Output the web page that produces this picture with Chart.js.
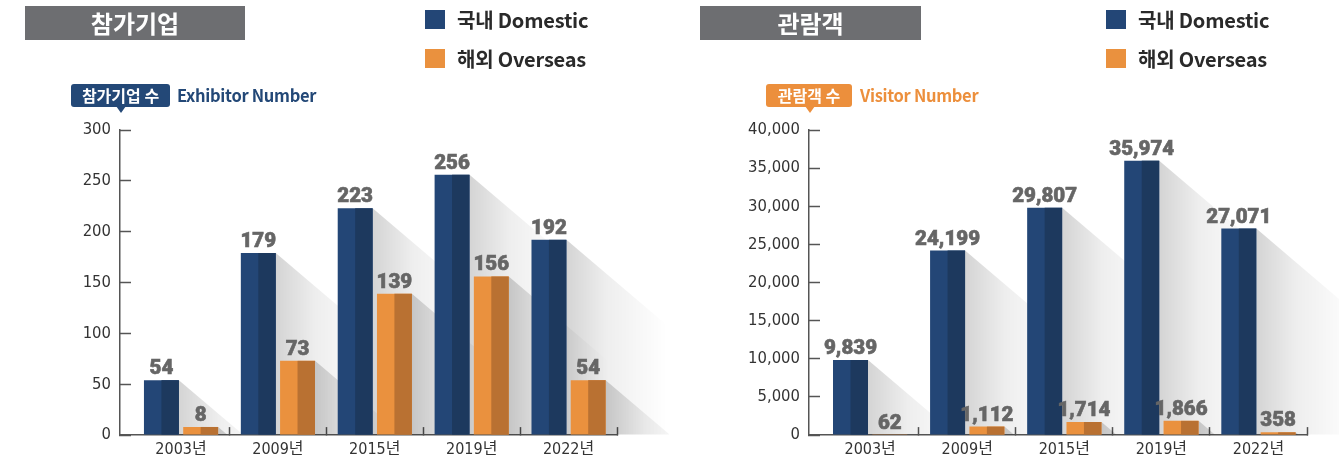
<!DOCTYPE html>
<html>
<head>
<meta charset="utf-8">
<script src="https://cdn.jsdelivr.net/npm/chart.js@4.4.1/dist/chart.umd.min.js"></script>
<style>
  html, body { margin: 0; padding: 0; background: #ffffff; }
  #page { position: relative; width: 1339px; height: 465px; overflow: hidden; background: #fff;
          font-family: 'Noto Sans CJK KR', 'Noto Sans', sans-serif; }
  canvas { position: absolute; top: 0; }
  .title { position: absolute; top: 6px; height: 34px; background: #6d6e71; color: #fff;
           font-size: 24px; font-weight: 700; text-align: center; line-height: 34px; }
  .leg { position: absolute; height: 39px; line-height: 39px; font-size: 20px; font-weight: 700; color: #2a2a2a; white-space: nowrap; letter-spacing: -0.2px; }
  .leg .sq { position: absolute; left: 0; top: 10px; width: 20px; height: 19px; }
  .leg span.t { position: absolute; left: 32px; top: 0; }
  .badge { position: absolute; top: 84px; height: 23px; border-radius: 3px; color: #fff; font-size: 16px; font-weight: 700;
           text-align: center; line-height: 23px; white-space: nowrap; }
  .tri { position: absolute; top: 106px; width: 0; height: 0; border-left: 5px solid transparent; border-right: 5px solid transparent; }
  .sub { position: absolute; top: 84px; height: 23px; line-height: 23px; font-size: 16.5px; font-weight: 700; white-space: nowrap; letter-spacing: -0.3px; }
</style>
</head>
<body>
<div id="page">
  <canvas id="c1" width="669" height="465" style="left:0px"></canvas>
  <canvas id="c2" width="670" height="465" style="left:669px"></canvas>

  <div class="title" style="left:25px; width:220px;">참가기업</div>
  <div class="title" style="left:700px; width:221px;">관람객</div>

  <div class="leg" style="left:425px; top:0px;"><div class="sq" style="background:#234676"></div><span class="t">국내 Domestic</span></div>
  <div class="leg" style="left:425px; top:39px;"><div class="sq" style="background:#ea913e"></div><span class="t">해외 Overseas</span></div>
  <div class="leg" style="left:1106px; top:0px;"><div class="sq" style="background:#234676"></div><span class="t">국내 Domestic</span></div>
  <div class="leg" style="left:1106px; top:39px;"><div class="sq" style="background:#ea913e"></div><span class="t">해외 Overseas</span></div>

  <div class="badge" style="left:71px; width:99px; background:#234877;">참가기업 수</div>
  <div class="tri" style="left:116px; border-top:7px solid #234877;"></div>
  <div class="sub" style="left:177px; color:#234877;">Exhibitor Number</div>

  <div class="badge" style="left:766px; width:86px; background:#ec8f3c;">관람객 수</div>
  <div class="tri" style="left:805px; border-top:7px solid #ec8f3c;"></div>
  <div class="sub" style="left:860px; color:#ec8f3c;">Visitor Number</div>
</div>
<script>
// ---- data ----
const categories = ['2003년', '2009년', '2015년', '2019년', '2022년'];
const exhibitorDomestic = [54, 179, 223, 256, 192];
const exhibitorOverseas = [8, 73, 139, 156, 54];
const visitorDomestic = [9839, 24199, 29807, 35974, 27071];
const visitorOverseas = [62, 1112, 1714, 1866, 358];
const exhibitorAxis = { max: 300, step: 50 };
const visitorAxis = { max: 40000, step: 5000 };
const seriesNames = ['국내 Domestic', '해외 Overseas'];

// ---- styling ----
const NAVY = '#234676', NAVY_DARK = '#1d395e';
const ORANGE = '#ea913e', ORANGE_DARK = '#b97132';
const AXIS = '#555555';
const NARROW = "'Liberation Sans Narrow', 'DejaVu Sans Condensed', 'Noto Sans CJK KR', sans-serif";
const CAT_OFFSET = 0.13;
const fmt = v => Number(v).toLocaleString('en-US');

const shadowPlugin = {
  id: 'longShadow',
  beforeDatasetsDraw(chart) {
    const ctx = chart.ctx;
    const F = 100, slope = 0.85;
    chart.data.datasets.forEach((ds, di) => {
      const meta = chart.getDatasetMeta(di);
      meta.data.forEach(el => {
        const p = el.getProps(['x', 'y', 'base', 'width'], true);
        const right = p.x + p.width / 2;
        const top = Math.min(p.y, p.base), base = Math.max(p.y, p.base);
        const h = base - top;
        if (h <= 0) return;
        const L = Math.min(F, h / slope);
        const g = ctx.createLinearGradient(right, 0, right + F, 0);
        g.addColorStop(0, 'rgba(0,0,0,0.17)');
        g.addColorStop(0.4, 'rgba(0,0,0,0.065)');
        g.addColorStop(1, 'rgba(0,0,0,0)');
        ctx.save();
        ctx.beginPath();
        ctx.moveTo(right, top);
        ctx.lineTo(right + L, top + L * slope);
        ctx.lineTo(right + L, base);
        ctx.lineTo(right, base);
        ctx.closePath();
        ctx.fillStyle = g;
        ctx.fill();
        ctx.restore();
      });
    });
  }
};

const toneAndLabelPlugin = {
  id: 'toneLabels',
  afterDatasetsDraw(chart) {
    const ctx = chart.ctx;
    chart.data.datasets.forEach((ds, di) => {
      const meta = chart.getDatasetMeta(di);
      meta.data.forEach((el, i) => {
        const p = el.getProps(['x', 'y', 'base', 'width'], true);
        const top = Math.min(p.y, p.base), h = Math.abs(p.base - p.y);
        ctx.save();
        ctx.fillStyle = ds.darkColor;
        ctx.fillRect(p.x, top, p.width / 2, h);
        ctx.fillStyle = '#666666';
        ctx.font = "900 20.5px Roboto, 'Noto Sans', sans-serif";
        ctx.textAlign = 'center';
        ctx.textBaseline = 'alphabetic';
        ctx.lineWidth = 0.6;
        ctx.strokeStyle = '#666666';
        const txt = fmt(ds.data[i]);
        ctx.fillText(txt, p.x, top - 6);
        ctx.strokeText(txt, p.x, top - 6);
        ctx.restore();
      });
    });
  }
};

function makeChart(id, dom, ovs, axis, yWidth, padRight) {
  return new Chart(document.getElementById(id), {
    type: 'bar',
    data: {
      labels: categories,
      datasets: [
        { label: seriesNames[0], data: dom, backgroundColor: NAVY, darkColor: NAVY_DARK, borderWidth: 0,
          categoryPercentage: 0.81, barPercentage: 0.89 },
        { label: seriesNames[1], data: ovs, backgroundColor: ORANGE, darkColor: ORANGE_DARK, borderWidth: 0,
          categoryPercentage: 0.81, barPercentage: 0.89 }
      ]
    },
    options: {
      responsive: false,
      animation: false,
      devicePixelRatio: 1,
      layout: { padding: { left: 0, right: padRight, top: 130, bottom: 0 } },
      plugins: { legend: { display: false }, tooltip: { enabled: false } },
      scales: {
        x: {
          type: 'category',
          offset: true,
          grid: {
            offset: true, drawOnChartArea: false, drawTicks: true, tickLength: -8,
            tickColor: c => (c.index === 0 ? 'rgba(0,0,0,0)' : AXIS), tickWidth: 1.5
          },
          border: { display: true, color: AXIS, width: 1.5 },
          ticks: { font: { family: NARROW, size: 16 }, color: '#333333', padding: 13, maxRotation: 0, autoSkip: false },
          afterFit: a => { a.height = 26; },
          afterBuildTicks: a => { a._startValue = -0.5 - CAT_OFFSET; a._valueRange = categories.length + CAT_OFFSET; }
        },
        y: {
          min: 0, max: axis.max,
          ticks: { stepSize: axis.step, callback: v => fmt(v), font: { family: NARROW, size: 16.5 }, color: '#333333', padding: 20 },
          grid: { drawOnChartArea: false, drawTicks: true, tickLength: -11, tickColor: AXIS, tickWidth: 1.5 },
          border: { display: true, color: AXIS, width: 1.5 },
          afterFit: a => { a.width = yWidth; }
        }
      }
    },
    plugins: [shadowPlugin, toneAndLabelPlugin]
  });
}

makeChart('c1', exhibitorDomestic, exhibitorOverseas, exhibitorAxis, 120, 52);
makeChart('c2', visitorDomestic, visitorOverseas, visitorAxis, 140, 32);
</script>
</body>
</html>
